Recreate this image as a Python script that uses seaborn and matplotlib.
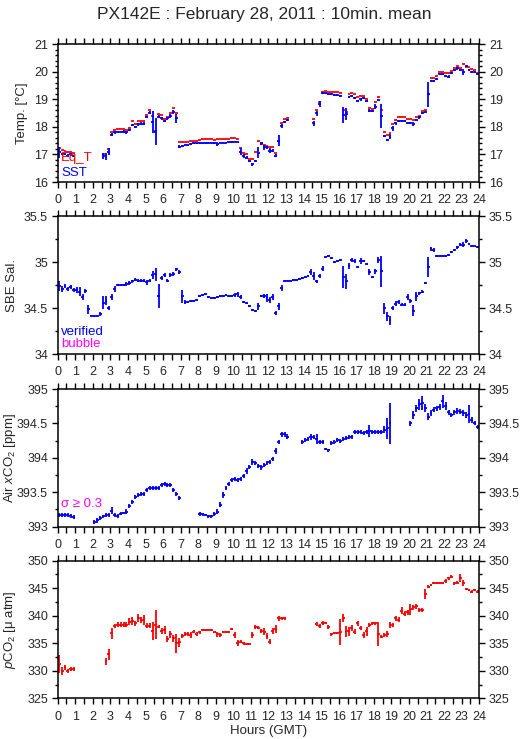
import numpy as np
import pandas as pd
import matplotlib
matplotlib.use("Agg")
import matplotlib.pyplot as plt
import seaborn as sns
from matplotlib.ticker import MultipleLocator, FuncFormatter

n = np.nan

# 10-minute slots, 6 per hour, 144 per day
EQ_T = [
    17.25, 17.15, 17.13, 17.08, 17.10, 17.07,
    n, n, n, n, n, n,
    n, n, n, 17.03, 16.98, 17.20,
    17.80, 17.90, 17.93, 17.93, 17.93, 17.90,
    17.95, 18.20, 18.10, 18.22, 18.22, 18.22,
    18.45, 18.60, 18.40, 17.85, 18.48, 18.45,
    18.30, 18.35, 18.52, 18.70, 18.50, 17.45,
    17.45, 17.45, 17.45, 17.50, 17.50, 17.50,
    17.52, 17.55, 17.55, 17.55, 17.55, 17.53,
    17.57, 17.57, 17.55, 17.55, 17.57, 17.60,
    17.60, 17.55, 17.25, 17.07, 17.00, 16.85,
    16.83, 17.08, 17.50, 17.38, 17.35, 17.30,
    17.28, 17.27, 17.07, 17.50, 18.15, 18.30,
    18.33, n, n, n, n, n,
    n, n, n, 18.28, 18.60, 18.90,
    19.28, 19.30, 19.28, 19.27, 19.27, 19.26,
    19.25, 18.60, 18.55, 19.18, 19.25, 19.18,
    19.08, 19.12, 19.13, 19.02, 18.70, 18.65,
    18.90, 19.10, 18.60, 17.80, 17.72, 17.77,
    18.10, 18.25, 18.35, 18.35, 18.35, 18.28,
    18.28, 18.27, 18.35, 18.40, 18.58, 18.63,
    19.20, 19.77, 19.77, 19.85, 20.00, 20.00,
    19.97, 19.97, 20.03, 20.15, 20.20, 20.15,
    20.30, 20.17, 20.17, 20.10, 20.05, 19.97,
]
SST = [
    17.08, 17.02, 17.02, 16.96, 17.00, 16.95,
    n, n, n, n, n, n,
    n, n, n, 16.95, 16.92, 17.10,
    17.72, 17.80, 17.82, 17.83, 17.83, 17.80,
    17.90, 18.07, 18.00, 18.10, 18.12, 18.12,
    18.37, 18.52, 18.19, 17.83, 18.37, 18.31,
    18.22, 18.31, 18.40, 18.55, 18.31, 17.28,
    17.32, 17.33, 17.33, 17.38, 17.40, 17.40,
    17.40, 17.41, 17.42, 17.43, 17.43, 17.42,
    17.38, 17.43, 17.43, 17.42, 17.44, 17.46,
    17.47, 17.44, 17.10, 16.95, 16.88, 16.76,
    16.64, 16.76, 17.06, 17.40, 17.26, 17.26,
    17.14, 17.14, 16.95, 17.50, 18.03, 18.19,
    18.25, n, n, n, n, n,
    n, n, n, 18.13, 18.49, 18.83,
    19.22, 19.22, 19.20, 19.18, 19.17, 19.16,
    19.12, 18.43, 18.47, 19.10, 19.13, 19.04,
    18.95, 19.00, 19.04, 18.94, 18.59, 18.59,
    18.74, 18.98, 18.40, 17.67, 17.52, 17.65,
    17.95, 18.13, 18.22, 18.23, 18.22, 18.13,
    18.13, 18.10, 18.25, 18.35, 18.52, 18.53,
    19.18, 19.67, 19.68, 19.74, 19.91, 19.91,
    19.86, 19.83, 19.95, 20.07, 20.13, 20.07,
    20.00, 20.21, 20.07, 20.00, 19.98, 19.92,
]
SST_ERR = [
    0.20, 0.05, 0.04, 0.05, 0.04, 0.04,
    0, 0, 0, 0, 0, 0,
    0, 0, 0, 0.10, 0.12, 0.12,
    0.06, 0.04, 0.03, 0.03, 0.05, 0.04,
    0.04, 0.05, 0.04, 0.05, 0.06, 0.05,
    0.03, 0.06, 0.40, 0.50, 0.05, 0.06,
    0.05, 0.05, 0.07, 0.07, 0.15, 0.05,
    0.04, 0.03, 0.03, 0.03, 0.02, 0.02,
    0.02, 0.02, 0.03, 0.02, 0.02, 0.03,
    0.06, 0.02, 0.02, 0.02, 0.02, 0.03,
    0.03, 0.03, 0.12, 0.06, 0.05, 0.05,
    0.05, 0.05, 0.20, 0.05, 0.08, 0.06,
    0.10, 0.06, 0.05, 0.20, 0.06, 0.04,
    0.03, 0, 0, 0, 0, 0,
    0, 0, 0, 0.10, 0.08, 0.10,
    0.04, 0.03, 0.03, 0.03, 0.03, 0.03,
    0.03, 0.30, 0.20, 0.04, 0.03, 0.03,
    0.03, 0.04, 0.03, 0.05, 0.05, 0.03,
    0.10, 0.05, 0.45, 0.05, 0.04, 0.10,
    0.08, 0.05, 0.03, 0.03, 0.03, 0.03,
    0.04, 0.08, 0.05, 0.05, 0.03, 0.03,
    0.45, 0.03, 0.03, 0.04, 0.03, 0.03,
    0.03, 0.04, 0.03, 0.03, 0.05, 0.03,
    0.12, 0.03, 0.03, 0.03, 0.03, 0.04,
]

SAL = [
    34.74, 34.71, 34.74, 34.71, 34.73, 34.70,
    34.70, 34.68, 34.62, 34.69, 34.49, 34.42,
    34.41, 34.42, 34.44, 34.56, 34.58, 34.50,
    34.62, 34.71, 34.75, 34.75, 34.75, 34.76,
    34.77, 34.79, 34.81, 34.80, 34.80, 34.80,
    34.78, 34.80, 34.86, 34.87, 34.63, 34.83,
    34.86, 34.80, 34.86, 34.87, 34.92, 34.89,
    34.63, 34.57, 34.57, 34.58, 34.58, 34.59,
    34.63, 34.64, 34.65, 34.62, 34.61, 34.61,
    34.62, 34.63, 34.63, 34.64, 34.63, 34.63,
    34.64, 34.65, 34.62, 34.57, 34.56, 34.52,
    34.48, 34.47, 34.52, 34.63, 34.63, 34.61,
    34.59, 34.62, 34.45, 34.52, 34.72, 34.80,
    34.80, 34.80, 34.81, 34.81, 34.82, 34.83,
    34.84, 34.85, 34.89, 34.85, 34.79, 34.85,
    34.93, 35.06, 35.07, 35.04, 35.00, 35.01,
    35.02, 34.84, 34.79, 34.96, 35.02, 35.01,
    34.95, 35.01, 35.01, 34.98, 34.89, 34.84,
    34.90, 35.02, 34.90, 34.50, 34.41, 34.37,
    34.50, 34.55, 34.57, 34.54, 34.54, 34.62,
    34.58, 34.47, 34.63, 34.66, 34.68, 34.77,
    34.95, 35.14, 35.13, 35.07, 35.07, 35.07,
    35.07, 35.08, 35.11, 35.13, 35.16, 35.19,
    35.19, 35.23, 35.20, 35.18, 35.17, 35.16,
]
SAL_ERR = [
    0.05, 0.03, 0.02, 0.02, 0.02, 0.02,
    0.03, 0.05, 0.03, 0.02, 0.05, 0.01,
    0.01, 0.01, 0.02, 0.07, 0.05, 0.02,
    0.03, 0.03, 0.01, 0.01, 0.01, 0.02,
    0.02, 0.02, 0.02, 0.02, 0.02, 0.02,
    0.03, 0.02, 0.04, 0.07, 0.13, 0.02,
    0.02, 0.02, 0.02, 0.02, 0.02, 0.02,
    0.07, 0.02, 0.01, 0.01, 0.01, 0.01,
    0.01, 0.01, 0.01, 0.01, 0.01, 0.01,
    0.01, 0.01, 0.01, 0.01, 0.01, 0.01,
    0.02, 0.03, 0.02, 0.01, 0.01, 0.01,
    0.01, 0.01, 0.04, 0.01, 0.02, 0.04,
    0.03, 0.03, 0.02, 0.04, 0.03, 0.01,
    0.01, 0.01, 0.01, 0.01, 0.01, 0.01,
    0.01, 0.01, 0.03, 0.04, 0.02, 0.02,
    0.03, 0.01, 0.01, 0.01, 0.01, 0.01,
    0.01, 0.12, 0.08, 0.03, 0.02, 0.02,
    0.01, 0.03, 0.01, 0.01, 0.03, 0.01,
    0.03, 0.03, 0.17, 0.06, 0.05, 0.05,
    0.02, 0.03, 0.02, 0.02, 0.02, 0.03,
    0.02, 0.06, 0.05, 0.02, 0.02, 0.01,
    0.11, 0.02, 0.02, 0.01, 0.01, 0.01,
    0.01, 0.01, 0.01, 0.01, 0.02, 0.02,
    0.03, 0.02, 0.01, 0.01, 0.01, 0.01,
]

XCO2 = [
    393.17, 393.17, 393.17, 393.17, 393.15, 393.14,
    n, n, n, n, n, n,
    393.07, 393.09, 393.12, 393.15, 393.17, 393.17,
    393.23, 393.17, 393.16, 393.19, 393.20, 393.22,
    393.30, 393.36, 393.43, 393.46, 393.48, 393.48,
    393.53, 393.56, 393.56, 393.56, 393.56, 393.60,
    393.62, 393.61, 393.60, 393.53, 393.48, 393.42,
    n, n, n, n, n, n,
    393.18, 393.18, 393.17, 393.15, 393.15, 393.19,
    393.22, 393.32, 393.46, 393.56, 393.62, 393.68,
    393.69, 393.68, 393.69, 393.73, 393.81, 393.87,
    393.94, 393.93, 393.88, 393.86, 393.90, 393.93,
    393.94, 393.98, 394.10, 394.23, 394.34, 394.34,
    394.31, n, n, n, n, 394.23,
    394.26, 394.28, 394.30, 394.30, 394.27, 394.23,
    394.23, 394.13, 394.11, 394.21, 394.23, 394.26,
    394.24, 394.27, 394.29, 394.30, 394.30, 394.37,
    394.37, 394.37, 394.36, 394.38, 394.39, 394.37,
    394.37, 394.38, 394.37, 394.41, 394.43, 394.50,
    n, n, n, n, n, n,
    394.50, 394.62, 394.72, 394.78, 394.80, 394.72,
    394.60, 394.65, 394.70, 394.72, 394.74, 394.82,
    394.75, 394.66, 394.62, 394.66, 394.68, 394.67,
    394.65, 394.62, 394.64, 394.55, 394.50, 394.45,
]
XCO2_ERR = [
    0.03, 0.03, 0.03, 0.03, 0.03, 0.03,
    0, 0, 0, 0, 0, 0,
    0.03, 0.03, 0.03, 0.02, 0.03, 0.03,
    0.05, 0.03, 0.03, 0.02, 0.02, 0.03,
    0.03, 0.03, 0.03, 0.03, 0.03, 0.03,
    0.03, 0.03, 0.03, 0.03, 0.03, 0.03,
    0.03, 0.03, 0.03, 0.03, 0.03, 0.03,
    0, 0, 0, 0, 0, 0,
    0.03, 0.02, 0.02, 0.02, 0.02, 0.03,
    0.03, 0.04, 0.05, 0.03, 0.03, 0.03,
    0.03, 0.03, 0.03, 0.03, 0.04, 0.03,
    0.04, 0.03, 0.03, 0.03, 0.03, 0.03,
    0.03, 0.03, 0.04, 0.03, 0.03, 0.03,
    0.03, 0, 0, 0, 0, 0.03,
    0.03, 0.03, 0.04, 0.03, 0.07, 0.03,
    0.03, 0.02, 0.02, 0.03, 0.03, 0.03,
    0.03, 0.03, 0.03, 0.03, 0.03, 0.03,
    0.03, 0.03, 0.03, 0.03, 0.08, 0.03,
    0.03, 0.03, 0.03, 0.05, 0.15, 0.30,
    0, 0, 0, 0, 0, 0,
    0.04, 0.06, 0.05, 0.08, 0.10, 0.06,
    0.05, 0.04, 0.04, 0.04, 0.04, 0.10,
    0.06, 0.04, 0.03, 0.04, 0.04, 0.04,
    0.04, 0.04, 0.13, 0.05, 0.03, 0.03,
]

PCO2 = [
    331.2, 330.0, 330.6, 330.0, 330.3, 330.3,
    n, n, n, n, n, n,
    n, n, n, n, 331.7, 333.0,
    336.8, 338.1, 338.4, 338.4, 338.4, 338.4,
    338.9, 339.0, 338.6, 339.6, 339.2, 339.2,
    338.2, 338.2, 337.2, 338.4, 338.0, 337.2,
    337.4, 335.8, 336.6, 335.9, 335.0, 335.2,
    336.3, 336.7, 336.7, 336.5, 337.1, 336.7,
    337.0, 337.4, 337.4, 337.4, 337.4, 337.1,
    336.6, 336.5, 337.1, 337.1, 337.1, 337.6,
    336.5, 335.0, 335.3, 335.0, 334.8, 334.8,
    336.5, 338.0, 337.8, 337.2, 337.1, 336.3,
    335.3, 337.2, 337.6, 339.5, 339.5, 339.5,
    n, n, n, n, n, n,
    n, n, n, n, 338.5, 338.1,
    338.7, 338.7, 338.0, 336.6, 336.8, 336.9,
    337.0, 339.6, 337.2, 337.2, 337.8, 337.1,
    338.6, 337.8, 336.5, 337.2, 338.3, 338.6,
    338.6, 336.7, 336.2, 336.5, 336.7, 338.3,
    338.3, 339.5, 339.3, 340.9, 340.4, 340.6,
    341.2, 341.5, 341.7, 341.0, 341.0, 343.9,
    345.3, 345.6, 345.9, 346.0, 346.0, 345.9,
    346.3, 346.8, 347.1, 345.9, 346.0, 346.8,
    345.9, 344.9, 344.7, 344.4, 344.7, 344.4,
]
PCO2_ERR = [
    1.6, 0.7, 0.4, 0.4, 0.4, 0.4,
    0, 0, 0, 0, 0, 0,
    0, 0, 0, 0, 0.7, 1.0,
    1.0, 0.4, 0.4, 0.4, 0.5, 0.5,
    0.6, 0.7, 0.5, 0.7, 0.6, 0.9,
    0.5, 0.4, 1.7, 2.6, 0.3, 0.6,
    0.8, 0.5, 0.6, 0.6, 1.7, 0.8,
    0.4, 0.3, 0.4, 0.5, 0.3, 0.3,
    0.3, 0.2, 0.2, 0.2, 0.2, 0.2,
    0.4, 0.3, 0.2, 0.2, 0.2, 0.2,
    0.5, 0.5, 0.3, 0.3, 0.2, 0.2,
    0.6, 0.4, 0.3, 0.4, 0.6, 0.5,
    0.5, 0.6, 0.7, 0.5, 0.2, 0.2,
    0, 0, 0, 0, 0, 0,
    0, 0, 0, 0, 0.4, 0.4,
    0.3, 0.2, 0.4, 0.3, 0.2, 0.2,
    2.4, 0.7, 1.0, 0.8, 0.6, 0.4,
    0.5, 0.4, 0.5, 0.8, 0.3, 0.3,
    0.3, 2.2, 0.3, 0.3, 0.5, 0.5,
    0.4, 0.4, 0.4, 0.6, 0.4, 0.4,
    1.0, 0.5, 0.4, 0.4, 0.4, 0.9,
    0.3, 0.2, 0.2, 0.2, 0.2, 0.2,
    0.3, 0.3, 0.3, 0.3, 0.3, 0.7,
    0.5, 0.2, 0.2, 0.2, 0.2, 0.2,
]

HOURS = (np.arange(144) + 0.5) / 6
HALF_SLOT = 1 / 12
BLUE, RED, MAGENTA = "#0000ff", "#ff0000", "#ff00ff"
LW = 1.3

sns.set_style("ticks")
plt.rcParams["font.family"] = ["Liberation Sans", "DejaVu Sans"]
plt.rcParams["mathtext.fontset"] = "custom"
plt.rcParams["mathtext.rm"] = "Liberation Sans"
plt.rcParams["mathtext.it"] = "Liberation Sans:italic"


def draw_series(ax, vals, errs, color):
    df = pd.DataFrame({"hour": HOURS, "value": vals, "slot": np.arange(144)})
    df["err"] = errs if errs is not None else 0.0
    df = df.dropna(subset=["value"])
    # horizontal bar spanning each 10-min averaging window
    ends = pd.concat([df.assign(hour=df["hour"] - HALF_SLOT),
                      df.assign(hour=df["hour"] + HALF_SLOT)])
    sns.lineplot(data=ends, x="hour", y="value", units="slot", estimator=None,
                 color=color, lw=LW, solid_capstyle="butt", ax=ax, legend=False)
    if errs is not None:
        ax.errorbar(df["hour"], df["value"], yerr=df["err"], fmt="none",
                    ecolor=color, elinewidth=LW, capsize=0)


def style_axis(ax, ylim, major, minor, ylabel, label_x):
    ax.set_xlim(0, 24)
    ax.set_ylim(*ylim)
    ax.xaxis.set_major_locator(MultipleLocator(1))
    ax.xaxis.set_minor_locator(MultipleLocator(0.5))
    ax.yaxis.set_major_locator(MultipleLocator(major))
    ax.yaxis.set_minor_locator(MultipleLocator(minor))
    ax.yaxis.set_major_formatter(FuncFormatter(lambda v, p: f"{v:g}"))
    ax.xaxis.set_major_formatter(FuncFormatter(lambda v, p: f"{v:g}"))
    ax.tick_params(axis="both", which="both", direction="out", top=True, right=True,
                   labelright=True, labelsize=9, width=1, color="black")
    ax.tick_params(axis="y", which="major", length=4.3, pad=2.7)
    ax.tick_params(axis="y", which="minor", length=2.2)
    ax.tick_params(axis="x", which="both", length=4.3, pad=4.5)
    for s in ax.spines.values():
        s.set_linewidth(1.1)
        s.set_color("black")
    ax.set_xlabel("")
    ax.set_ylabel(ylabel, fontsize=9.5)
    ax.yaxis.set_label_coords(label_x, 0.5)


fig = plt.figure(figsize=(5.29, 7.39), dpi=100)
L, W = 0.109, 0.797
ax1 = fig.add_axes([L, 0.7537, W, 0.1863])
ax2 = fig.add_axes([L, 0.5206, W, 0.1871])
ax3 = fig.add_axes([L, 0.2873, W, 0.1863])
ax4 = fig.add_axes([L, 0.0551, W, 0.1862])

draw_series(ax1, EQ_T, None, RED)
draw_series(ax1, SST, SST_ERR, BLUE)
style_axis(ax1, (16, 21), 1, 0.2, "Temp. [°C]", -0.07)
ax1.text(0.008, 0.174, "Eq_T", color=RED, fontsize=9.5, transform=ax1.transAxes, va="center")
ax1.text(0.008, 0.069, "SST", color=BLUE, fontsize=9.5, transform=ax1.transAxes, va="center")

draw_series(ax2, SAL, SAL_ERR, BLUE)
style_axis(ax2, (34, 35.5), 0.5, 0.25, "SBE Sal.", -0.094)
ax2.text(0.008, 0.161, "verified", color=BLUE, fontsize=9.5, transform=ax2.transAxes, va="center")
ax2.text(0.008, 0.071, "bubble", color=MAGENTA, fontsize=9.5, transform=ax2.transAxes, va="center")

draw_series(ax3, XCO2, XCO2_ERR, BLUE)
style_axis(ax3, (393, 395), 0.5, 0.25, "Air $x$CO$_2$ [ppm]", -0.094)
ax3.text(0.008, 0.165, "σ ≥ 0.3", color=MAGENTA, fontsize=9.5, transform=ax3.transAxes, va="center")

draw_series(ax4, PCO2, PCO2_ERR, RED)
style_axis(ax4, (325, 350), 5, 2.5, "$p$CO$_2$ [μ atm]", -0.094)
ax4.set_xlabel("Hours (GMT)", fontsize=9.5, labelpad=2)

fig.text(0.5, 0.98, "PX142E : February 28, 2011 : 10min. mean", ha="center", va="center", fontsize=12.5)

fig.savefig("out.png", dpi=100)
